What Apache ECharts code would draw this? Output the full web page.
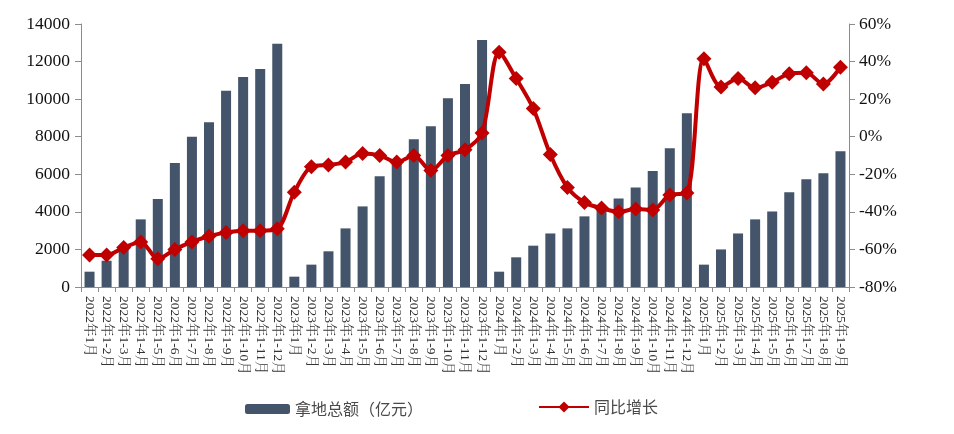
<!DOCTYPE html>
<html><head><meta charset="utf-8">
<script src="https://cdn.jsdelivr.net/npm/echarts@6/dist/echarts.min.js"></script>
<style>html,body{margin:0;padding:0;background:#fff}#c{width:954px;height:434px}</style>
</head><body><div id="c"></div>
<script>
const categories = [
 '2022年1月','2022年1-2月','2022年1-3月','2022年1-4月','2022年1-5月','2022年1-6月','2022年1-7月','2022年1-8月','2022年1-9月','2022年1-10月','2022年1-11月','2022年1-12月',
 '2023年1月','2023年1-2月','2023年1-3月','2023年1-4月','2023年1-5月','2023年1-6月','2023年1-7月','2023年1-8月','2023年1-9月','2023年1-10月','2023年1-11月','2023年1-12月',
 '2024年1月','2024年1-2月','2024年1-3月','2024年1-4月','2024年1-5月','2024年1-6月','2024年1-7月','2024年1-8月','2024年1-9月','2024年1-10月','2024年1-11月','2024年1-12月',
 '2025年1月','2025年1-2月','2025年1-3月','2025年1-4月','2025年1-5月','2025年1-6月','2025年1-7月','2025年1-8月','2025年1-9月'
];
const landAmount = [
 815,1400,2050,3600,4680,6600,8000,8770,10450,11180,11600,12950,
 550,1190,1900,3120,4290,5900,6600,7870,8560,10050,10810,13150,
 815,1580,2200,2850,3120,3760,4100,4710,5300,6170,7390,9250,
 1190,2000,2850,3600,4020,5050,5740,6060,7230
];
const yoyGrowth = [
 -63,-63,-59,-56,-65,-60,-56,-53,-51,-50,-50,-49,
 -29.5,-16,-15,-13.5,-9,-10,-13.5,-10,-18,-10,-7,2,
 45,31,15,-9.5,-27,-35,-38,-40,-38.5,-39,-31,-30,
 41.5,26.5,31,26,29,33.5,34,28,37
];
const leftTicks = {min:0, max:14000, interval:2000};
const rightTicks = {min:-80, max:60, interval:20};

const serif = "'Liberation Serif','Times New Roman','Noto Serif CJK SC','Noto Sans CJK SC',serif";
const chart = echarts.init(document.getElementById('c'));
chart.setOption({
  animation:false,
  grid:{left:81,right:105,top:24,bottom:147},
  legend:[
    {data:['拿地总额（亿元）'],left:240,top:396,itemWidth:45,itemHeight:10,
     textStyle:{fontSize:16,color:'#4a4a4a',fontFamily:"'Noto Sans CJK SC',sans-serif"}},
    {data:['同比增长'],left:533,top:394,itemWidth:50,itemHeight:14,
     textStyle:{fontSize:16,color:'#4a4a4a',fontFamily:"'Noto Sans CJK SC',sans-serif"}}
  ],
  xAxis:{type:'category',data:categories,
    axisLine:{lineStyle:{color:'#8c8c8c',width:1}},
    axisTick:{show:true,length:5,lineStyle:{color:'#8c8c8c'}},
    axisLabel:{interval:0,rotate:-90,fontSize:13.5,color:'#333',fontFamily:serif,margin:9}
  },
  yAxis:[
    {type:'value',min:leftTicks.min,max:leftTicks.max,interval:leftTicks.interval,
     splitLine:{show:false},
     axisLine:{show:true,lineStyle:{color:'#8c8c8c'}},
     axisTick:{show:true,length:6,lineStyle:{color:'#8c8c8c'}},
     axisLabel:{fontSize:17.5,color:'#111',fontFamily:serif,margin:11,formatter:function(v){return String(v);}}},
    {type:'value',min:rightTicks.min,max:rightTicks.max,interval:rightTicks.interval,
     splitLine:{show:false},
     axisLine:{show:true,lineStyle:{color:'#8c8c8c'}},
     axisTick:{show:true,length:6,lineStyle:{color:'#8c8c8c'}},
     axisLabel:{fontSize:17.5,color:'#111',fontFamily:serif,margin:10,formatter:'{value}%'}}
  ],
  series:[
    {name:'拿地总额（亿元）',type:'bar',data:landAmount,barWidth:10,
     itemStyle:{color:'#44546a'}},
    {name:'同比增长',type:'line',yAxisIndex:1,data:yoyGrowth,
     symbol:'diamond',symbolSize:15,showAllSymbol:true,smooth:0.3,
     lineStyle:{color:'#c00000',width:4},
     itemStyle:{color:'#c00000'}}
  ]
});
</script></body></html>
